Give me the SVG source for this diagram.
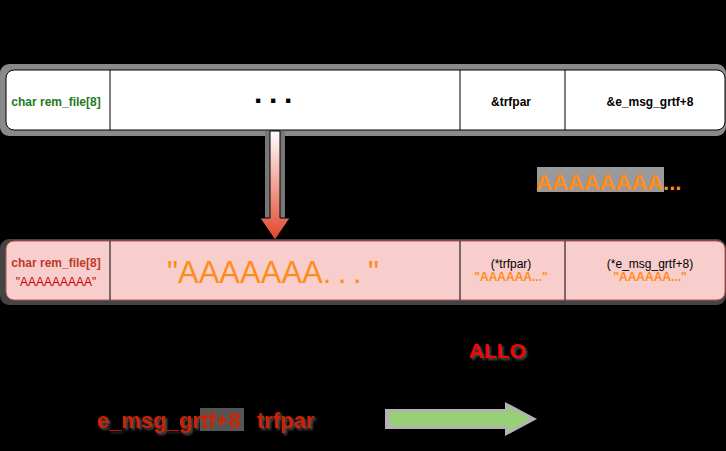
<svg xmlns="http://www.w3.org/2000/svg" width="726" height="451" viewBox="0 0 726 451">
<defs>
<style>
.t{font-family:"Liberation Sans",Arial,sans-serif;}
.b{font-weight:bold;}
.div{stroke:#000;stroke-width:1;}
.sh{filter:url(#sh);}
</style>
<linearGradient id="ag" x1="0" y1="0" x2="0" y2="1">
<stop offset="0" stop-color="#ffffff"/>
<stop offset="1" stop-color="#e0452b"/>
</linearGradient>
<filter id="sh" x="-10%" y="-20%" width="130%" height="150%">
<feDropShadow dx="2" dy="2" stdDeviation="1.2" flood-color="#555" flood-opacity="0.9"/>
</filter>
</defs>
<rect width="726" height="451" fill="#000"/>
<g id="top-box">
<rect x="0" y="64" width="726" height="72" rx="9" fill="#8a8a8a"/>
<rect x="6" y="70" width="719" height="60" rx="8" fill="#fff" stroke="#000"/>
<line class="div" x1="110" y1="70" x2="110" y2="130"/>
<line class="div" x1="460" y1="70" x2="460" y2="130"/>
<line class="div" x1="565" y1="70" x2="565" y2="130"/>
<text class="t b" x="56" y="106" font-size="12" fill="#1e7a1e" text-anchor="middle">char rem_file[8]</text>
<text class="t b" x="254" y="103" font-size="30" fill="#000" letter-spacing="6.7">...</text>
<text class="t b" x="511" y="106" font-size="12" fill="#000" text-anchor="middle">&amp;trfpar</text>
<text class="t b" x="650" y="106" font-size="12" fill="#000" text-anchor="middle">&amp;e_msg_grtf+8</text>
</g>
<g id="connectors">
<g id="down-arrow">
<rect x="265" y="131" width="20" height="88" fill="#777"/>
<polygon points="270,131 280,131 280,218 290,218 275,240 260,218 270,218" fill="url(#ag)" stroke="#000" stroke-width="1"/>
</g>
<g id="green-arrow">
<polygon points="385,409 505,409 505,402 537,419 505,436 505,429 385,429" fill="#b3b3b3"/>
<polygon points="390,412 508,412 508,407 531,419 508,431 508,426 390,426" fill="#97d077"/>
</g>
</g>
<g id="bottom-box">
<rect x="0" y="239" width="726" height="66" rx="9" fill="#444"/>
<rect x="6" y="241" width="719" height="59" rx="8" fill="#f8cecc" stroke="#b85450"/>
<line class="div" x1="110" y1="241" x2="110" y2="300"/>
<line class="div" x1="460" y1="241" x2="460" y2="300"/>
<line class="div" x1="565" y1="241" x2="565" y2="300"/>
<text class="t b" x="56" y="267" font-size="12" fill="#c0392b" text-anchor="middle">char rem_file[8]</text>
<text class="t" x="56" y="286" font-size="12" fill="#c00000" text-anchor="middle">"AAAAAAAAA"</text>
<text class="t" x="167" y="283" font-size="31" fill="#ff8c1a">"AAAAAAA<tspan letter-spacing="6.5">...</tspan>"</text>
<text class="t" x="511" y="268" font-size="12" fill="#000" text-anchor="middle">(*trfpar)</text>
<text class="t b" x="511" y="281" font-size="12" fill="#ff8c1a" text-anchor="middle">"AAAAAA..."</text>
<text class="t" x="650" y="268" font-size="12" fill="#000" text-anchor="middle">(*e_msg_grtf+8)</text>
<text class="t b" x="650" y="281" font-size="12" fill="#ff8c1a" text-anchor="middle">"AAAAAA..."</text>
</g>
<g id="label-aaaa">
<rect x="537" y="167" width="127" height="25" fill="#9a9a9a"/>
<text class="t b" x="536" y="190" font-size="22" fill="#ff8c1a">AAAAAAAA...</text>
</g>
<g id="label-allo">
<text class="t b sh" x="469" y="358" font-size="21" fill="#ff0000">ALLO</text>
</g>
<g id="label-bottom">
<rect x="200" y="408" width="44" height="23" fill="#555"/>
<text class="t b sh" x="97" y="428" font-size="22" fill="#cc2200">e_msg_grtf+8</text>
<text class="t b sh" x="257" y="428" font-size="22" fill="#cc2200">trfpar</text>
</g>
</svg>
